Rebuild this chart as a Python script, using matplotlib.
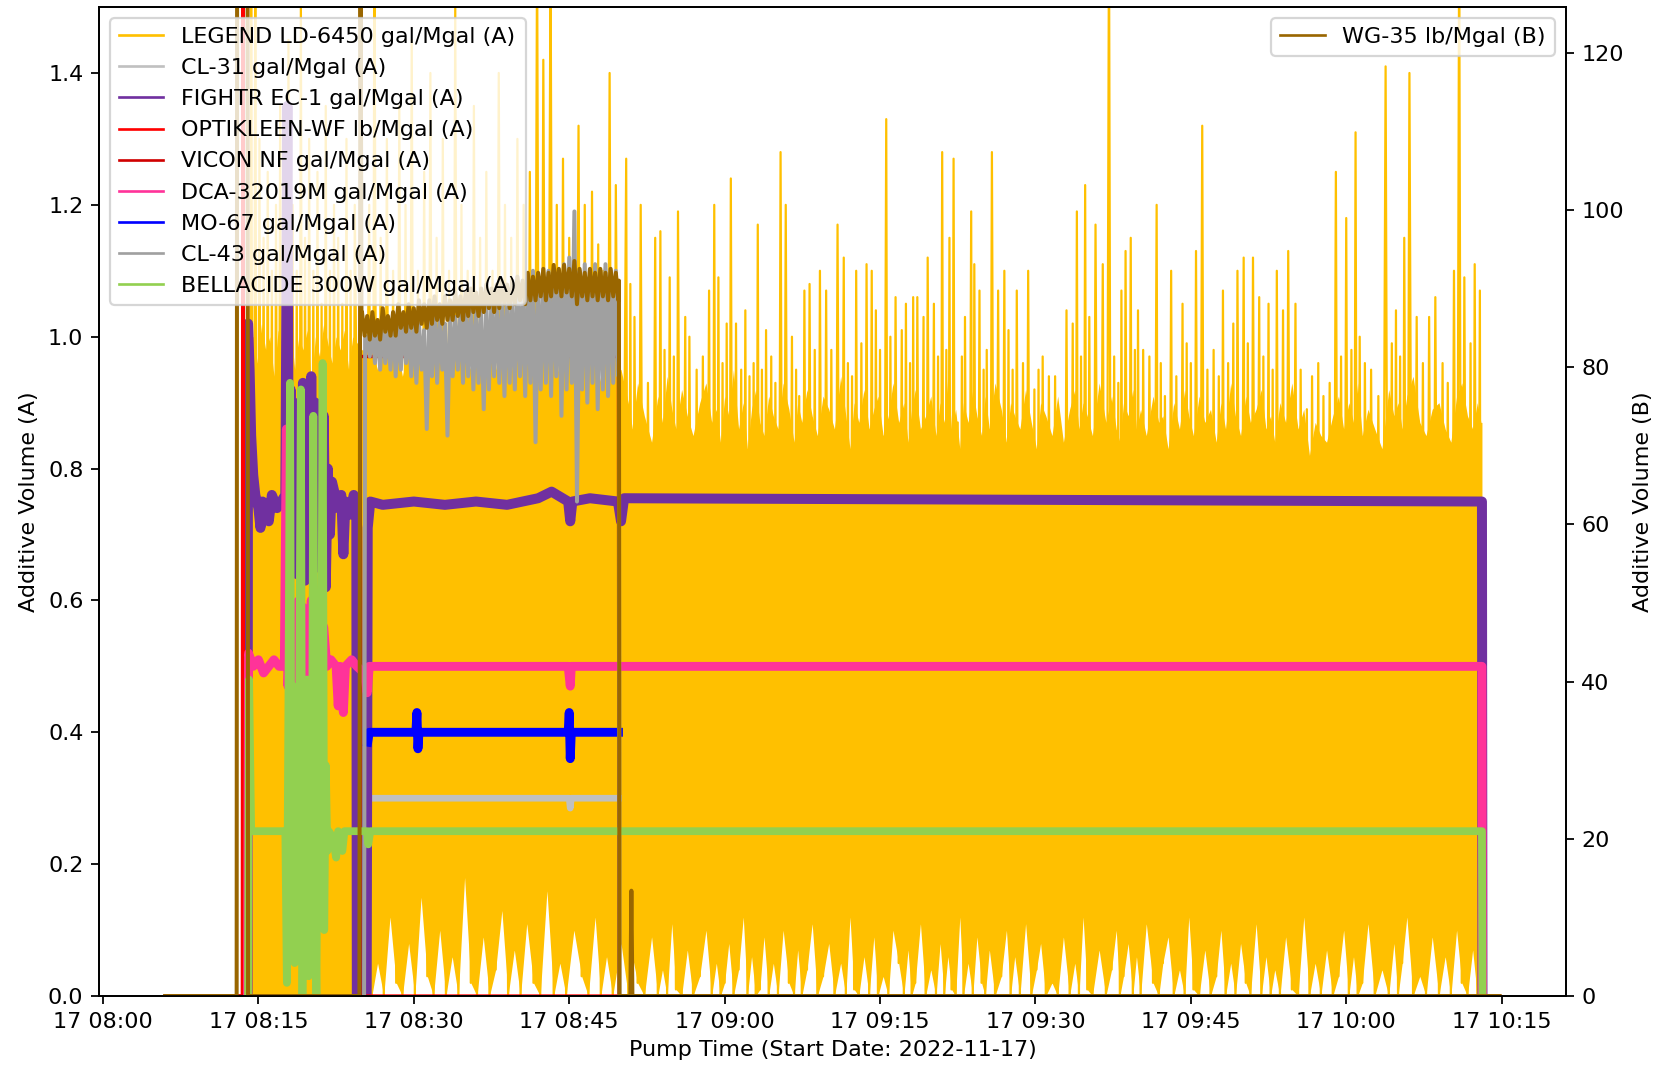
import numpy as np
import pandas as pd
import matplotlib
matplotlib.use("Agg")
import matplotlib.pyplot as plt
import matplotlib.dates as mdates

START = pd.Timestamp("2022-11-17 08:00")

# all times below are minutes after 08:00 on 2022-11-17

# LEGEND LD-6450 (A): spike tops, the low point after each spike (dip) and
# the top of the solid part of the trace next to it (notch)
legend_t = [
    14.3, 14.7, 15.1, 15.5, 15.9, 16.3, 16.7, 17.1, 17.5, 17.9,
    18.3, 18.7, 19.1, 19.5, 19.9, 20.3, 20.7, 21.1, 21.5, 21.9,
    22.3, 22.7, 23.1, 23.5, 23.9, 24.3,
    25.7, 26.2, 26.8, 27.4, 28.0, 28.6, 29.2, 29.8, 30.4, 31.0,
    31.6, 32.2, 32.8, 33.4, 34.0, 34.6, 35.2, 35.8, 36.4, 37.0,
    37.6, 38.2, 38.8, 39.4, 40.0, 40.6, 41.2, 41.9, 42.5, 43.2,
    43.8, 44.4, 45.0, 45.9, 46.5, 47.2, 47.8, 48.3, 48.9, 49.5,
    50.5, 50.9, 51.3, 51.9, 52.6, 53.3, 53.8, 54.2, 54.7, 55.1,
    55.5, 56.2, 56.6, 57.3, 57.9, 58.5, 59.0, 59.4, 59.8, 60.2,
    60.6, 61.1, 61.6, 62.0, 62.4, 62.8, 63.2, 63.6, 64.0, 64.5,
    64.9, 65.4, 65.9, 66.5, 66.9, 67.2, 67.7, 68.2, 68.7, 69.2,
    69.8, 70.3, 70.9, 71.5, 71.9, 72.3, 72.7, 73.2, 73.7, 74.2,
    74.6, 75.0, 75.6, 76.0, 76.5, 77.1, 77.5, 77.9, 78.2, 78.6,
    79.2, 79.6, 80.2, 80.6, 81.0, 81.4, 81.7, 82.1, 82.5, 82.9,
    83.2, 83.8, 84.1, 84.6, 85.0, 85.3, 85.8, 86.4, 87.0, 87.4,
    87.8, 88.2, 88.8, 89.3, 89.9, 90.3, 90.7, 91.3, 91.9, 92.4,
    93.0, 93.6, 94.0, 94.4, 94.8, 95.2, 95.8, 96.5, 97.1, 97.6,
    98.0, 98.3, 98.7, 99.2, 99.6, 99.9, 100.4, 101.0, 101.7, 102.1,
    102.5, 103.1, 103.6, 104.2, 104.6, 105.0, 105.5, 106.1, 106.6, 107.2,
    107.7, 108.1, 108.6, 109.1, 109.5, 110.1, 110.5, 111.0, 111.6, 112.0,
    112.5, 112.9, 113.3, 113.9, 114.4, 115.1, 115.6, 116.2, 116.7, 117.3,
    117.8, 118.4, 119.0, 119.5, 120.0, 120.5, 120.9, 121.3, 121.8, 122.4,
    123.1, 123.8, 124.4, 124.8, 125.2, 125.6, 126.1, 126.8, 127.4, 128.0,
    128.6, 129.3, 129.8, 130.4, 130.9, 131.4, 132.0, 132.4, 132.9,
]
legend_peak = [
    1.6, 1.55, 1.3, 1.15, 1.25, 1.1, 1.2, 1.35, 1.1, 1.45,
    1.2, 1.1, 1.5, 1.15, 1.3, 1.1, 1.25, 1.05, 1.35, 1.1,
    1.2, 1.15, 1.05, 1.3, 1.1, 1.2,
    1.2, 1.6, 1.15, 1.3, 1.1, 1.35, 1.2, 1.45, 1.1, 1.25,
    1.4, 1.15, 1.3, 1.1, 1.5, 1.2, 1.1, 1.35, 1.15, 1.25,
    1.1, 1.4, 1.2, 1.15, 1.3, 1.2, 1.25, 1.6, 1.42, 1.6,
    1.2, 1.27, 1.15, 1.32, 1.2, 1.22, 1.14, 1.1, 1.40, 1.23,
    1.27, 1.08, 1.03, 1.20, 0.93, 1.15, 1.16, 0.98, 1.09, 0.97,
    1.19, 1.03, 1.00, 0.95, 0.97, 1.07, 1.20, 1.09, 0.96, 1.02,
    1.24, 1.02, 0.95, 1.04, 0.94, 0.96, 1.17, 0.95, 1.01, 0.97,
    0.93, 1.28, 1.20, 1.00, 0.95, 0.91, 1.07, 1.08, 0.98, 1.10,
    1.07, 0.98, 1.17, 1.12, 0.96, 0.94, 1.10, 0.99, 1.11, 1.10,
    1.04, 0.98, 1.33, 1.00, 1.06, 1.01, 1.05, 0.96, 1.06, 1.06,
    1.03, 1.12, 1.05, 0.97, 1.28, 0.98, 1.15, 1.27, 0.87, 0.97,
    1.03, 1.19, 1.11, 1.07, 0.95, 0.98, 1.28, 1.07, 1.10, 1.01,
    0.95, 1.07, 0.96, 1.10, 0.92, 0.95, 0.97, 0.94, 0.94, 0.86,
    1.04, 1.02, 1.19, 0.97, 1.23, 1.03, 1.17, 1.11, 1.62, 0.97,
    0.93, 1.07, 1.13, 1.15, 0.98, 1.04, 0.98, 0.97, 1.20, 0.96,
    0.91, 1.10, 0.94, 1.05, 0.99, 0.96, 1.13, 1.32, 0.95, 0.98,
    0.94, 1.07, 0.96, 1.02, 1.10, 1.12, 0.99, 1.12, 1.06, 0.97,
    1.05, 0.95, 1.10, 1.04, 1.13, 1.05, 0.95, 0.89, 0.94, 0.96,
    0.91, 0.93, 1.25, 0.97, 1.18, 0.98, 1.31, 1.00, 0.96, 0.95,
    0.91, 1.41, 0.99, 1.04, 0.97, 1.15, 1.40, 1.03, 0.96, 1.03,
    1.06, 0.96, 0.93, 1.10, 1.62, 1.09, 0.99, 1.11, 1.07,
]
legend_dip = [
    0.0, 0.0, 0.0, 0.0, 0.0, 0.0, 0.0, 0.0, 0.0, 0.0,
    0.0, 0.0, 0.0, 0.0, 0.0, 0.0, 0.0, 0.0, 0.0, 0.0,
    0.0, 0.0, 0.0, 0.0, 0.0, 0.0,
    0.0, 0.05, 0.0, 0.12, 0.02, 0.0, 0.08, 0.0, 0.15, 0.03,
    0.0, 0.1, 0.0, 0.06, 0.0, 0.18, 0.02, 0.0, 0.09, 0.0,
    0.04, 0.13, 0.0, 0.07, 0.0, 0.11, 0.02, 0.0, 0.16, 0.0,
    0.05, 0.0, 0.1, 0.03, 0.0, 0.12, 0.0, 0.06, 0.0, 0.08,
    0.0, 0.06, 0.02, 0.0, 0.09, 0.0, 0.04, 0.0, 0.11, 0.01,
    0.0, 0.07, 0.0, 0.03, 0.10, 0.0, 0.05, 0.0, 0.02, 0.08,
    0.0, 0.04, 0.12, 0.0, 0.06, 0.0, 0.01, 0.09, 0.0, 0.05,
    0.0, 0.10, 0.02, 0.0, 0.07, 0.0, 0.04, 0.11, 0.0, 0.03,
    0.08, 0.0, 0.05, 0.0, 0.12, 0.01, 0.0, 0.06, 0.0, 0.09,
    0.0, 0.03, 0.0, 0.10, 0.05, 0.0, 0.07, 0.0, 0.02, 0.11,
    0.0, 0.04, 0.0, 0.08, 0.0, 0.06, 0.01, 0.0, 0.12, 0.0,
    0.05, 0.0, 0.09, 0.02, 0.0, 0.07, 0.0, 0.03, 0.10, 0.0,
    0.06, 0.0, 0.11, 0.0, 0.04, 0.08, 0.0, 0.02, 0.0, 0.09,
    0.0, 0.05, 0.0, 0.12, 0.01, 0.0, 0.07, 0.0, 0.04, 0.10,
    0.0, 0.03, 0.08, 0.0, 0.06, 0.0, 0.11, 0.02, 0.0, 0.05,
    0.09, 0.0, 0.04, 0.0, 0.12, 0.01, 0.0, 0.07, 0.0, 0.03,
    0.10, 0.0, 0.05, 0.0, 0.08, 0.02, 0.0, 0.11, 0.0, 0.06,
    0.0, 0.04, 0.0, 0.09, 0.01, 0.0, 0.12, 0.0, 0.05, 0.0,
    0.07, 0.0, 0.03, 0.10, 0.0, 0.06, 0.0, 0.02, 0.11, 0.0,
    0.04, 0.0, 0.08, 0.0, 0.05, 0.12, 0.0, 0.03, 0.0, 0.09,
    0.0, 0.06, 0.0, 0.10, 0.02, 0.0, 0.07, 0.0, 0.0,
]
legend_notch = [
    1.00, 0.96, 1.02, 0.98, 1.00, 0.94, 1.01, 0.99, 0.97, 1.02,
    0.95, 1.00, 0.98, 1.01, 0.93, 1.00, 0.97, 1.02, 0.99, 0.96,
    1.00, 0.98, 1.01, 0.95, 1.00, 0.98,
    0.98, 0.95, 1.00, 0.96, 0.99, 0.94, 0.98, 0.97, 1.00, 0.95,
    0.98, 0.96, 0.99, 0.94, 0.98, 0.97, 0.95, 1.00, 0.96, 0.98,
    0.95, 0.99, 0.97, 0.94, 0.98, 0.96, 1.00, 0.95, 0.98, 0.97,
    0.94, 0.99, 0.96, 0.98, 0.95, 0.97, 0.93, 0.98, 0.96, 0.95,
    0.90, 0.86, 0.93, 0.88, 0.84, 0.91, 0.87, 0.94, 0.89, 0.86,
    0.92, 0.88, 0.85, 0.90, 0.93, 0.87, 0.89, 0.84, 0.91, 0.88,
    0.95, 0.86, 0.90, 0.83, 0.89, 0.92, 0.87, 0.85, 0.91, 0.88,
    0.86, 0.93, 0.89, 0.84, 0.90, 0.87, 0.92, 0.88, 0.85, 0.91,
    0.89, 0.86, 0.94, 0.88, 0.83, 0.90, 0.87, 0.92, 0.86, 0.89,
    0.91, 0.85, 0.88, 0.93, 0.87, 0.90, 0.84, 0.89, 0.92, 0.86,
    0.88, 0.91, 0.85, 0.90, 0.87, 0.94, 0.86, 0.89, 0.83, 0.90,
    0.87, 0.92, 0.88, 0.85, 0.91, 0.86, 0.93, 0.89, 0.84, 0.90,
    0.88, 0.86, 0.92, 0.87, 0.83, 0.90, 0.88, 0.85, 0.91, 0.84,
    0.89, 0.92, 0.86, 0.90, 0.88, 0.85, 0.93, 0.87, 0.91, 0.86,
    0.84, 0.90, 0.88, 0.92, 0.86, 0.89, 0.85, 0.91, 0.87, 0.88,
    0.83, 0.90, 0.86, 0.92, 0.88, 0.85, 0.91, 0.87, 0.89, 0.84,
    0.90, 0.86, 0.93, 0.88, 0.85, 0.91, 0.87, 0.89, 0.92, 0.86,
    0.88, 0.84, 0.90, 0.87, 0.93, 0.86, 0.89, 0.82, 0.87, 0.85,
    0.84, 0.88, 0.91, 0.86, 0.90, 0.87, 0.93, 0.85, 0.89, 0.86,
    0.83, 0.92, 0.88, 0.90, 0.86, 0.91, 0.94, 0.87, 0.85, 0.89,
    0.90, 0.86, 0.84, 0.91, 0.93, 0.88, 0.86, 0.90, 0.87,
]
legend_start = 14.2
legend_end = 133.1

# CL-31 (A)
cl31_t = [25.55, 25.65, 30.0, 35.0, 40.0, 45.0, 45.1, 45.2, 49.75]
cl31_v = [0.28, 0.30, 0.30, 0.30, 0.30, 0.30, 0.285, 0.30, 0.30]

# FIGHTR EC-1 (A)
fightr_t = [13.95, 14.0, 14.15, 14.3, 14.5, 14.7, 15.0, 15.2, 15.4,
            15.8, 16.0, 16.3, 16.8, 17.2, 17.6, 17.8, 17.95, 18.1, 18.3,
            18.5, 18.7, 18.9, 19.1, 19.3, 19.5, 19.7, 19.9, 20.1, 20.3,
            20.5, 20.7, 20.9, 21.1, 21.3, 21.5, 21.7, 21.9, 22.1, 22.4,
            22.7, 23.0, 23.2, 23.4, 23.8, 24.2, 24.45, 24.5, 25.45, 25.55,
            25.8, 27.0, 30.0, 33.0, 36.0, 39.0, 42.0, 43.3, 44.9, 45.1,
            45.3, 47.0, 49.7, 50.0, 50.3, 133.1, 133.15]
fightr_v = [0, 1.02, 0.95, 0.85, 0.79, 0.76, 0.74, 0.71, 0.75,
            0.74, 0.72, 0.76, 0.74, 0.75, 0.76, 1.35, 0.62, 0.92, 0.66,
            0.88, 0.64, 0.90, 0.68, 0.93, 0.63, 0.86, 0.66, 0.94, 0.69,
            0.90, 0.65, 0.84, 0.70, 0.88, 0.62, 0.80, 0.70, 0.78, 0.76,
            0.74, 0.76, 0.67, 0.75, 0.73, 0.76, 0.75, 0.0, 0.0, 0.71,
            0.75, 0.745, 0.75, 0.745, 0.75, 0.745, 0.755, 0.765, 0.75, 0.72,
            0.75, 0.755, 0.75, 0.72, 0.755, 0.75, 0.0]

# OPTIKLEEN-WF (A)
optik_t = [6.0, 13.45, 13.5, 13.55, 134.8]
optik_v = [0, 0, 1.6, 0, 0]

# VICON NF (A)
vicon_t = [6.0, 24.8, 24.85, 49.75, 49.8, 134.8]
vicon_v = [0, 0, 0.97, 0.97, 0, 0]

# DCA-32019M (A)
dca_t = [13.95, 14.05, 14.5, 15.0, 15.5, 16.0, 16.5, 17.0, 17.5,
         17.7, 17.85, 18.1, 18.3, 18.5, 18.7, 18.9, 19.1, 19.3, 19.5,
         19.7, 19.9, 20.1, 20.3, 20.5, 20.7, 20.9, 21.1, 21.3, 21.6,
         22.0, 22.5, 22.7, 22.9, 23.2, 23.4, 24.0, 24.5, 25.2, 25.5,
         25.7, 30.0, 40.0, 44.9, 45.1, 45.2, 50.0, 133.1, 133.15]
dca_v = [0, 0.52, 0.50, 0.51, 0.49, 0.50, 0.51, 0.50, 0.50,
         0.86, 0.47, 0.60, 0.43, 0.58, 0.44, 0.60, 0.42, 0.59, 0.45,
         0.57, 0.43, 0.60, 0.44, 0.58, 0.42, 0.59, 0.45, 0.56, 0.50,
         0.51, 0.50, 0.44, 0.50, 0.43, 0.50, 0.51, 0.50, 0.49, 0.46,
         0.50, 0.50, 0.50, 0.50, 0.47, 0.50, 0.50, 0.50, 0.0]

# MO-67 (A)
mo67_t = [25.55, 25.7, 28.0, 30.2, 30.3, 30.4, 30.5, 35.0, 40.0,
          44.9, 45.0, 45.1, 45.2, 47.5, 49.75]
mo67_v = [0.385, 0.40, 0.40, 0.40, 0.43, 0.375, 0.40, 0.40, 0.40,
          0.40, 0.43, 0.36, 0.40, 0.40, 0.40]

# CL-43 (A): noisy band 08:25-08:50, upper and lower reading every half minute
cl43_band_t = np.arange(25.5, 49.6, 0.5)
cl43_hi = [1.00, 1.01, 1.02, 1.02, 1.01, 1.03, 1.02, 1.03, 1.02, 1.03,
           1.02, 1.01, 1.03, 1.04, 1.03, 1.02, 1.04, 1.03, 1.04, 1.05,
           1.04, 1.05, 1.04, 1.05, 1.06, 1.05, 1.06, 1.07, 1.06, 1.08,
           1.07, 1.09, 1.10, 1.08, 1.09, 1.10, 1.09, 1.10, 1.11, 1.12,
           1.19, 1.10, 1.11, 1.10, 1.11, 1.10, 1.11, 1.10, 1.10]
cl43_lo = [0.97, 0.96, 0.95, 0.96, 0.95, 0.94, 0.95, 0.96, 0.94, 0.93,
           0.95, 0.86, 0.94, 0.93, 0.95, 0.85, 0.94, 0.95, 0.93, 0.94,
           0.92, 0.93, 0.89, 0.92, 0.94, 0.93, 0.91, 0.93, 0.92, 0.94,
           0.91, 0.93, 0.84, 0.92, 0.93, 0.91, 0.94, 0.88, 0.92, 0.93,
           0.75, 0.92, 0.90, 0.93, 0.89, 0.92, 0.91, 0.93, 0.94]

# BELLACIDE 300W (A)
bell_t = [14.0, 14.1, 14.3, 15.0, 16.0, 17.0,
          17.6, 17.75, 17.9, 18.05, 18.2, 18.35, 18.5, 18.65, 18.8, 18.95,
          19.1, 19.25, 19.4, 19.55, 19.7, 19.85, 20.0, 20.15, 20.3, 20.45,
          20.6, 20.75, 20.9, 21.05, 21.2, 21.35, 21.5, 21.65, 21.8,
          22.2, 22.5, 22.7, 23.1, 23.3, 24.0, 25.5, 25.6, 25.8, 133.1, 133.15]
bell_v = [0, 0.48, 0.25, 0.25, 0.25, 0.25,
          0.25, 0.02, 0.45, 0.93, 0.20, 0.47, 0.05, 0.42, 0.18, 0.46,
          0.92, 0.0, 0.44, 0.20, 0.48, 0.03, 0.40, 0.18, 0.88, 0.22,
          0.0, 0.45, 0.20, 0.38, 0.96, 0.10, 0.35, 0.22, 0.25,
          0.24, 0.21, 0.25, 0.22, 0.25, 0.25, 0.25, 0.23, 0.25, 0.25, 0.0]

# WG-35 (B), right axis
wg35_band_t = np.arange(25.0, 49.6, 0.5)
wg35_hi = [87, 86.5, 87, 86, 87.5, 86.5, 87, 88, 87, 88,
           87.5, 88.5, 88, 88.5, 89, 88, 89, 88.5, 89.5, 89,
           89.5, 90, 89.5, 90, 90.5, 90, 90.5, 91, 90.5, 91,
           91.5, 91, 92, 91.5, 92, 92.5, 92, 93, 92.5, 93,
           92.5, 93.5, 92.5, 92, 92.5, 92, 92.5, 92, 92.5, 92]
wg35_lo = [84, 83.5, 84, 83.5, 84.5, 84, 84, 85, 84.5, 85,
           84.5, 85.5, 85, 85.5, 86, 85.5, 86, 86, 86.5, 86,
           86.5, 87, 86.5, 87, 87.5, 87, 87.5, 88, 87.5, 88,
           88.5, 88, 88.5, 88.5, 89, 88.5, 89, 89.5, 89, 89.5,
           89, 88, 89, 88.5, 89, 88.5, 89, 88.5, 89, 88.5]
wg35_before_t = [6.0, 12.9, 12.95, 13.95, 14.0, 24.75, 24.85, 24.95]
wg35_before_v = [0, 0, 150, 150, 0, 0, 140, 86]
wg35_after_t = [49.8, 49.85, 50.9, 51.0, 51.1, 134.8]
wg35_after_v = [91, 0, 0, 13.4, 0, 0]


def at(minutes):
    return (START + pd.to_timedelta(np.asarray(minutes, dtype=float), unit="m")).to_numpy()


def zigzag(t, hi, lo, half):
    xs, ys = [], []
    for ti, h, l in zip(t, hi, lo):
        xs += [ti, ti + half]
        ys += [h, l]
    return xs, ys


# yellow trace: each spike top is followed by its low point, half way to the next spike
mids = []
for i in range(len(legend_t)):
    nxt = legend_t[i + 1] if i + 1 < len(legend_t) else legend_end
    mids.append((legend_t[i] + nxt) / 2)
lx, ly = [legend_start], [0.0]
for ti, mi, p, d in zip(legend_t, mids, legend_peak, legend_dip):
    lx += [ti, mi]
    ly += [p, d]
lx.append(legend_end)
ly.append(0.0)
# the solid part of the trace, between the dips and the notches
fx = [legend_start] + mids + [legend_end]
flo = [0.0] + legend_dip + [0.0]
fhi = [legend_notch[0]] + legend_notch + [legend_notch[-1]]

zx, zy = zigzag(cl43_band_t, cl43_hi, cl43_lo, 0.25)
cl43_x = [25.2, 25.3] + zx + [49.8, 49.85]
cl43_y = [0, 1.0] + zy + [0.95, 0.0]

wx, wy = zigzag(wg35_band_t, wg35_hi, wg35_lo, 0.25)
wg35_x = wg35_before_t + wx + wg35_after_t
wg35_y = wg35_before_v + wy + wg35_after_v

fig = plt.figure(figsize=(1666 / 160, 1068 / 160), dpi=160)
ax1 = fig.add_subplot(111)
fig.subplots_adjust(left=0.0594, right=0.9399, bottom=0.0674, top=0.9934)
ax2 = ax1.twinx()

yellow = "#FFC000"
ax1.fill_between(at(fx), flo, fhi, color=yellow, linewidth=0)
ax1.plot(at(lx), ly, color=yellow, lw=1.0, label="LEGEND LD-6450 gal/Mgal (A)")
ax1.plot(at(cl31_t), cl31_v, color="#C0C0C0", lw=3.0, label="CL-31 gal/Mgal (A)")
ax1.plot(at(fightr_t), fightr_v, color="#7030A0", lw=4.5, label="FIGHTR EC-1 gal/Mgal (A)")
ax1.plot(at(optik_t), optik_v, color="#FF0000", lw=1.5, label="OPTIKLEEN-WF lb/Mgal (A)")
ax1.plot(at(vicon_t), vicon_v, color="#D00000", lw=1.5, label="VICON NF gal/Mgal (A)")
ax1.plot(at(dca_t), dca_v, color="#FF3399", lw=4.0, label="DCA-32019M gal/Mgal (A)")
ax1.plot(at(mo67_t), mo67_v, color="#0000FF", lw=4.0, label="MO-67 gal/Mgal (A)")
ax1.plot(at(cl43_x), cl43_y, color="#A0A0A0", lw=1.8, label="CL-43 gal/Mgal (A)")
ax1.plot(at(bell_t), bell_v, color="#92D050", lw=3.5, label="BELLACIDE 300W gal/Mgal (A)")

ax2.plot(at(wg35_x), wg35_y, color="#996600", lw=1.8, label="WG-35 lb/Mgal (B)")

ax1.set_xlim(at([-0.39, 141.2]))
ax1.set_ylim(0, 1.5)
ax2.set_ylim(0, 125.8)
ax1.set_yticks(np.arange(0, 1.41, 0.2))
ax2.set_yticks(np.arange(0, 121, 20))

ax1.xaxis.set_major_locator(mdates.MinuteLocator(byminute=[0, 15, 30, 45]))
ax1.xaxis.set_major_formatter(mdates.DateFormatter("%d %H:%M"))

ax1.set_xlabel("Pump Time (Start Date: 2022-11-17)")
ax1.set_ylabel("Additive Volume (A)")
ax2.set_ylabel("Additive Volume (B)")

h1, l1 = ax1.get_legend_handles_labels()
h2, l2 = ax2.get_legend_handles_labels()
leg1 = ax2.legend(h1, l1, loc="upper left")
ax2.add_artist(leg1)
leg2 = ax2.legend(h2, l2, loc="upper right")
for leg in (leg1, leg2):
    for ln in leg.get_lines():
        ln.set_linewidth(1.2)

fig.savefig("out.png", dpi=160)
